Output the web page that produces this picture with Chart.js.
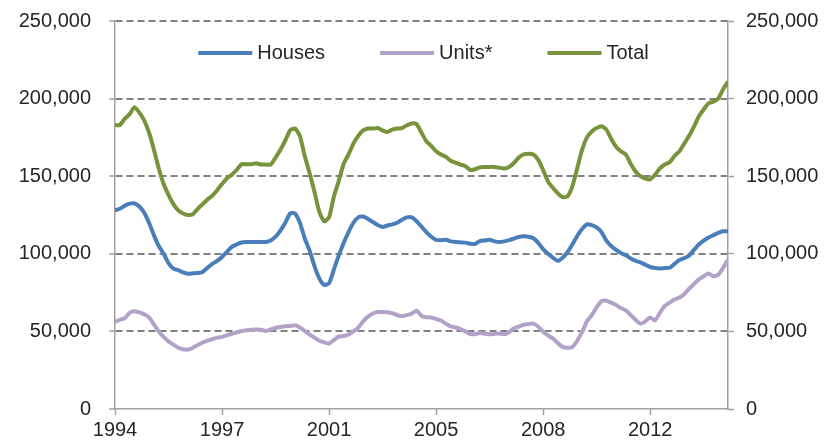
<!DOCTYPE html>
<html>
<head>
<meta charset="utf-8">
<script src="https://cdn.jsdelivr.net/npm/chart.js@4"></script>
<style>
  html, body { margin: 0; padding: 0; background: #fff; }
  #wrap { width: 828px; height: 444px; position: relative; }
</style>
</head>
<body>
<div id="wrap"><canvas id="grafico"></canvas></div>
<script>
// x labels shown every 44 months, starting Jan 1994
var tickLabels = ["1994", "1997", "2001", "2005", "2008", "2012"];
var seriesNames = ["Houses", "Units*", "Total"];

// one value every two months, Jan 1994 onwards
var houses = [
  128000, 129000, 131000, 132300, 132500, 130500, 126500, 120000, 112000, 105000,
  100000, 94000, 90500, 89500, 88000, 87200, 87400, 87600, 88300, 91000,
  93500, 95500, 98000, 101200, 104500, 106000, 107300, 107600, 107600, 107600,
  107600, 107600, 108500, 111000, 115000, 120000, 126000, 126000, 120000, 110000,
  102000, 92000, 84000, 80000, 81000, 90000, 99000, 107000, 114000, 120000,
  123500, 124000, 122500, 120500, 118500, 117300, 118200, 119000, 120000, 122000,
  123500, 123500, 121000, 117500, 114000, 111000, 109000, 108800, 109000, 108000,
  107600, 107400, 107200, 106500, 106300, 108200, 108600, 109000, 108000, 107600,
  108000, 108800, 109800, 110800, 111300, 111000, 110000, 107000, 103000, 100000,
  97500, 95500, 97500, 101000, 106000, 111500, 116000, 119000, 118500, 117000,
  114000, 108500, 105000, 102500, 100500, 99000, 97000, 95500, 94500, 93000,
  91500, 90800, 90500, 90800, 91000, 93500, 96000, 97200, 98800, 102500,
  106000, 108500, 110500, 112000, 113500, 114500, 114500
];
var units = [
  56000, 57500, 58500, 62000, 63000, 62200, 61000, 59000, 54500, 50000,
  46500, 43500, 41500, 39500, 38500, 38300, 39500, 41300, 42800, 44000,
  45000, 46000, 46500, 47500, 48500, 49300, 50300, 50800, 51000, 51200,
  51000, 50300, 51300, 52200, 52800, 53300, 53500, 53900, 52500, 50300,
  48000, 46000, 44000, 43000, 42200, 44500, 46600, 47000, 48000, 50000,
  52500, 56500, 59500, 61500, 62500, 62500, 62300, 61700, 60500, 59800,
  60500, 61500, 63300, 60000, 59100, 59000, 58000, 57000, 55000, 53200,
  52500, 51500, 50000, 48300, 48200, 49000, 48500, 48100, 48400, 48600,
  48200, 49500, 52000, 53000, 54300, 54800, 55000, 53000, 49800, 47500,
  45500, 42500, 40000, 39500, 39800, 44000, 49500, 56500, 60500, 65500,
  69500, 69800, 68500, 67000, 65000, 63500, 60500, 57500, 55000, 56500,
  59000, 57000, 62000, 66500, 68500, 70500, 71800, 74000, 77500, 80500,
  83500, 85500, 87300, 85500, 86500, 91000, 96000
];
var total = [
  182800, 183000, 187000, 190000, 194500, 191000, 186000, 178000, 167000, 155000,
  145000, 138000, 132000, 128000, 126000, 125000, 125500, 129000, 132000, 135000,
  137500, 141000, 145000, 148500, 151000, 154000, 157700, 157700, 157700, 158300,
  157500, 157500, 157500, 162000, 167000, 173000, 179600, 180700, 176000, 163000,
  152000, 140000, 127000, 121000, 123500, 137000, 147000, 158000, 164000, 171000,
  176000, 179500, 180700, 180700, 181000, 179500, 178500, 180000, 180700, 181000,
  182800, 184000, 183500, 178000, 172500, 169500, 166000, 164000, 162500, 160000,
  158700, 157500, 156500, 154000, 154500, 155700, 155900, 156000, 156000, 155500,
  155000, 156000, 158500, 162000, 164000, 164500, 164000, 160500, 154000, 146500,
  142500, 139000, 136500, 137000, 143500, 155000, 167000, 175000, 178800, 181000,
  182200, 180000, 174000, 169000, 166000, 164000, 158000, 153000, 150000, 148500,
  148000, 151000, 155000, 157500, 159000, 163000, 166000, 171000, 176000, 182000,
  188500, 193000, 197000, 198000, 200000, 206000, 211000
];

var cores = ["#4A7EBB", "#B3A2C7", "#77933C"];
var fonte = '"Liberation Sans", Arial, sans-serif';
var corTexto = "#262626";
var corEixo = "#A0A0A0";
var corGrade = "#808080";

function pontos(valores) {
  return valores.map(function (v, i) { return { x: i * 2, y: v }; });
}

function formatNum(v) {
  return Number(v).toLocaleString("en-US");
}

// eixos sem folga extra, para a area do grafico ficar onde queremos
function semFolga(s) {
  s.paddingTop = 0;
  s.paddingBottom = 0;
  s.paddingLeft = 0;
  s.paddingRight = 0;
}

// legenda desenhada dentro da area do grafico
var legendaInterna = {
  id: "legendaInterna",
  afterDraw: function (chart) {
    var ctx = chart.ctx;
    var area = chart.chartArea;
    var linha = 54, gapTexto = 5, gapItem = 55;
    ctx.save();
    ctx.font = "20px " + fonte;
    var itens = chart.data.datasets.map(function (ds) {
      return { label: ds.label, cor: ds.borderColor, w: ctx.measureText(ds.label).width };
    });
    var larg = itens.reduce(function (s, it) { return s + linha + gapTexto + it.w; }, 0) + gapItem * (itens.length - 1);
    var x = (area.left + area.right) / 2 - larg / 2 + 2;
    var y = area.top + 32;
    itens.forEach(function (it) {
      ctx.strokeStyle = it.cor;
      ctx.lineWidth = 4;
      ctx.beginPath();
      ctx.moveTo(x, y);
      ctx.lineTo(x + linha, y);
      ctx.stroke();
      ctx.fillStyle = corTexto;
      ctx.textBaseline = "middle";
      ctx.textAlign = "left";
      ctx.fillText(it.label, x + linha + gapTexto, y);
      x += linha + gapTexto + it.w + gapItem;
    });
    ctx.restore();
  }
};

var ctxLinha = document.getElementById("grafico");

new Chart(ctxLinha, {
  type: "line",
  data: {
    datasets: [
      { label: seriesNames[0], data: pontos(houses), borderColor: cores[0] },
      { label: seriesNames[1], data: pontos(units), borderColor: cores[1] },
      { label: seriesNames[2], data: pontos(total), borderColor: cores[2] }
    ]
  },
  options: {
    responsive: true,
    maintainAspectRatio: false,
    animation: false,
    layout: { padding: { top: 21, left: 0, right: 0, bottom: 0 } },
    elements: {
      line: { borderWidth: 4, tension: 0.2, fill: false },
      point: { radius: 0, hoverRadius: 0 }
    },
    plugins: {
      legend: { display: false },
      tooltip: { enabled: false }
    },
    scales: {
      x: {
        type: "linear",
        min: 0,
        max: 252,
        afterFit: function (s) { s.height = 35; semFolga(s); },
        ticks: {
          stepSize: 44,
          includeBounds: false,
          autoSkip: false,
          maxRotation: 0,
          padding: 3,
          color: corTexto,
          font: { family: fonte, size: 20 },
          callback: function (v) { return tickLabels[Math.round(v / 44)]; }
        },
        grid: { drawOnChartArea: false, drawTicks: true, tickLength: 6, tickColor: corEixo, tickWidth: 1.5 },
        border: { display: true, color: corEixo, width: 1.5 }
      },
      y: {
        position: "left",
        min: 0,
        max: 250000,
        afterFit: function (s) { s.width = 115; semFolga(s); },
        ticks: {
          stepSize: 50000,
          padding: 18,
          color: corTexto,
          font: { family: fonte, size: 20 },
          callback: formatNum
        },
        grid: {
          color: function (c) { return c.tick && c.tick.value === 0 ? "rgba(0,0,0,0)" : corGrade; },
          lineWidth: 2,
          drawTicks: true,
          tickLength: 6,
          tickColor: corEixo,
          tickWidth: 1.5
        },
        border: { display: true, color: corEixo, width: 1.5, dash: [7, 4] }
      },
      y2: {
        position: "right",
        min: 0,
        max: 250000,
        afterFit: function (s) { s.width = 100; semFolga(s); },
        ticks: {
          stepSize: 50000,
          padding: 12,
          color: corTexto,
          font: { family: fonte, size: 20 },
          callback: formatNum
        },
        grid: { drawOnChartArea: false, drawTicks: true, tickLength: 6, tickColor: corEixo, tickWidth: 1.5 },
        border: { display: true, color: corEixo, width: 1.5 }
      }
    }
  },
  plugins: [legendaInterna]
});
</script>
</body>
</html>
